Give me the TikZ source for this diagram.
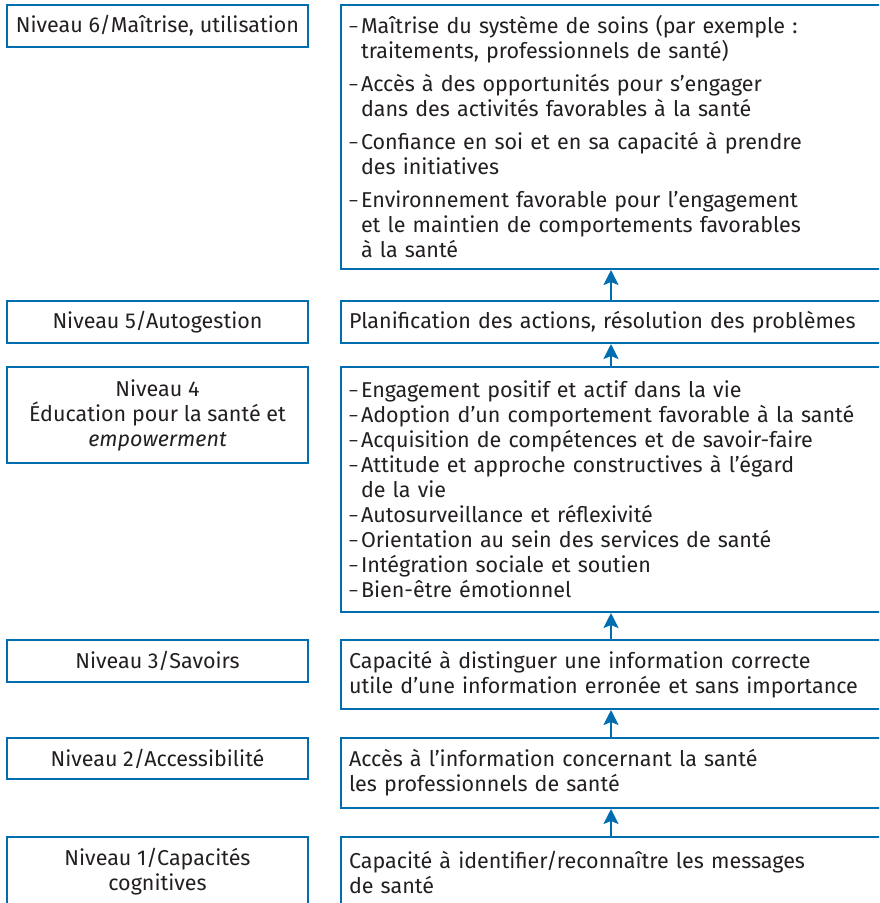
\documentclass[tikz,border=0pt]{standalone}
\usepackage{fontspec}
\setmainfont{Fira Sans}
\usetikzlibrary{arrows.meta,positioning}
\definecolor{bleu}{RGB}{0,109,176}
\definecolor{encre}{RGB}{35,31,32}
\newcommand{\tiret}{\makebox[12pt][l]{\raisebox{1pt}{\fontsize{17}{17}\selectfont –}}}
\newcommand{\retrait}{\hspace*{12pt}}

\begin{document}
\begin{tikzpicture}[x=1pt,y=1pt,
  every node/.style={text=encre,font=\fontsize{21.5}{25}\selectfont},
  niveau/.style={draw=bleu,line width=2pt,anchor=north west,minimum width=301pt,align=center,inner sep=0pt},
  contenu/.style={draw=bleu,line width=2pt,anchor=north west,text width=584pt,inner xsep=8pt,inner ysep=0pt,align=left},
  fleche/.style={draw=bleu,line width=2pt,-{Stealth[width=15pt,length=15pt,inset=3pt]}}]
\useasboundingbox (0,0) rectangle (879,-903);
\clip (0,0) rectangle (879,-903);
% niveaux
\node[niveau,minimum height=42pt] (n6) at (6,-4) {Niveau 6/Maîtrise, utilisation};
\node[niveau,minimum height=42pt] (n5) at (6,-300) {Niveau 5/Autogestion};
\node[niveau,minimum height=96pt] (n4) at (6,-366) {Niveau 4\\Éducation pour la santé et\\\textit{empowerment}};
\node[niveau,minimum height=42pt] (n3) at (6,-639) {Niveau 3/Savoirs};
\node[niveau,minimum height=41pt] (n2) at (6,-737) {Niveau 2/Accessibilité};
\node[niveau,minimum height=70pt] (n1) at (6,-836) {Niveau 1/Capacités\\cognitives};
% contenus
\node[contenu,minimum height=264pt] (c6) at (340,-4) {\tiret Maîtrise du système de soins (par exemple~:\\
\retrait traitements, professionnels de santé)\\[8pt]
\tiret Accès à des opportunités pour s’engager\\
\retrait dans des activités favorables à la santé\\[8pt]
\tiret Confiance en soi et en sa capacité à prendre\\
\retrait des initiatives\\[8pt]
\tiret Environnement favorable pour l’engagement\\
\retrait et le maintien de comportements favorables\\
\retrait à la santé};
\node[contenu,minimum height=42pt] (c5) at (340,-300) {Planification des actions, résolution des problèmes};
\node[contenu,minimum height=245pt] (c4) at (340,-366) {\tiret Engagement positif et actif dans la vie\\
\tiret Adoption d’un comportement favorable à la santé\\
\tiret Acquisition de compétences et de savoir-faire\\
\tiret Attitude et approche constructives à l’égard\\
\retrait de la vie\\
\tiret Autosurveillance et réflexivité\\
\tiret Orientation au sein des services de santé\\
\tiret Intégration sociale et soutien\\
\tiret Bien-être émotionnel};
\node[contenu,minimum height=69pt] (c3) at (340,-639) {Capacité à distinguer une information correcte\\utile d’une information erronée et sans importance};
\node[contenu,minimum height=70pt] (c2) at (340,-737) {Accès à l’information concernant la santé\\les professionnels de santé};
\node[contenu,minimum height=70pt] (c1) at (340,-836) {Capacité à identifier/reconnaître les messages\\de santé};
% fleches
\coordinate (axe) at (611,0);
\draw[fleche] (c1.north -| axe) -- (c2.south -| axe);
\draw[fleche] (c2.north -| axe) -- (c3.south -| axe);
\draw[fleche] (c3.north -| axe) -- (c4.south -| axe);
\draw[fleche] (c4.north -| axe) -- (c5.south -| axe);
\draw[fleche] (c5.north -| axe) -- (c6.south -| axe);
\end{tikzpicture}
\end{document}
